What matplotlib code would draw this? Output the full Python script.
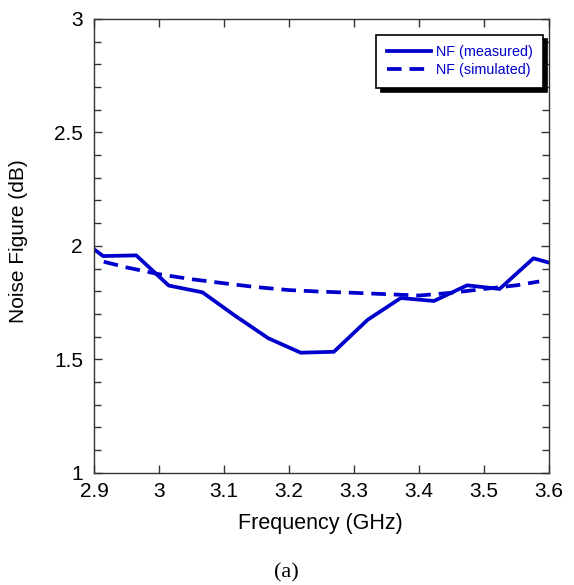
import matplotlib
matplotlib.use("Agg")
import matplotlib.pyplot as plt
from matplotlib.ticker import MultipleLocator

freq_meas = [2.9, 2.914, 2.965, 3.015, 3.067, 3.117, 3.168, 3.218, 3.269, 3.321, 3.372, 3.423, 3.474, 3.524, 3.576, 3.6]
nf_meas = [1.985, 1.955, 1.958, 1.825, 1.795, 1.692, 1.593, 1.529, 1.533, 1.674, 1.770, 1.757, 1.826, 1.810, 1.945, 1.926]

freq_sim = [2.915, 2.95, 3.0, 3.05, 3.1, 3.15, 3.2, 3.25, 3.3, 3.35, 3.4, 3.45, 3.5, 3.55, 3.585]
nf_sim = [1.930, 1.905, 1.875, 1.853, 1.835, 1.818, 1.805, 1.798, 1.793, 1.787, 1.781, 1.793, 1.810, 1.826, 1.843]

xticks = [2.9, 3.0, 3.1, 3.2, 3.3, 3.4, 3.5, 3.6]
xticklabels = ["2.9", "3", "3.1", "3.2", "3.3", "3.4", "3.5", "3.6"]
yticks = [1, 1.5, 2, 2.5, 3]
yticklabels = ["1", "1.5", "2", "2.5", "3"]

blue = "#0000CD"
plt.rcParams['font.family'] = ['Liberation Sans', 'DejaVu Sans']

W, H = 574, 585
L, R, T, B = 94, 549, 19, 472.7
fig = plt.figure(figsize=(W/100, H/100), dpi=100)
ax = fig.add_axes([L/W, 1 - B/H, (R-L)/W, (B-T)/H])

ax.plot(freq_meas, nf_meas, color=blue, lw=2.7, label="NF (measured)")
ax.plot(freq_sim, nf_sim, color=blue, lw=2.7, ls=(0, (3.9, 2.1)), label="NF (simulated)")

ax.set_xlim(2.9, 3.6)
ax.set_ylim(1, 3)
ax.set_xticks(xticks)
ax.set_xticklabels(xticklabels)
ax.set_yticks(yticks)
ax.set_yticklabels(yticklabels)
ax.yaxis.set_minor_locator(MultipleLocator(0.1))
ax.tick_params(which='both', direction='in', top=True, right=True, labelsize=15, colors='#333333', labelcolor='black')
ax.tick_params(which='major', length=6, width=1)
ax.tick_params(which='minor', length=5, width=1)
ax.tick_params(axis='x', pad=7)
ax.tick_params(axis='y', pad=8)
for s in ax.spines.values():
    s.set_color('#333333')
    s.set_linewidth(1)

ax.set_xlabel("Frequency (GHz)", fontsize=15.5)
ax.set_ylabel("Noise Figure (dB)", fontsize=15)
ax.xaxis.set_label_coords(((236.7+405)/2 - L)/(R-L), -(513 - B)/(B-T) * -1 + 0 if False else (B - 513)/(B-T))
ax.yaxis.set_label_coords((18.5 - L)/(R-L), (B - 241.5)/(B-T))
ax.xaxis.label.set_va('top')
ax.yaxis.label.set_va('center')

leg = ax.legend(loc='upper right', bbox_to_anchor=((542.7-L)/(R-L), (B-35)/(B-T)), fontsize=10.4, frameon=True,
                fancybox=False, shadow={'color': 'black', 'alpha': 1, 'ox': 3, 'oy': -3}, edgecolor='black',
                handlelength=3.1, handletextpad=0.3, borderpad=0.7, labelspacing=0.3, borderaxespad=0)
leg.get_frame().set_linewidth(1.2)
for t in leg.get_texts():
    t.set_color(blue)

fig.text(286/W, 1 - 573/H, "(a)", family=['Liberation Serif', 'DejaVu Serif'],
         fontsize=16, ha='center', va='center')

fig.savefig("out.png", dpi=100)
